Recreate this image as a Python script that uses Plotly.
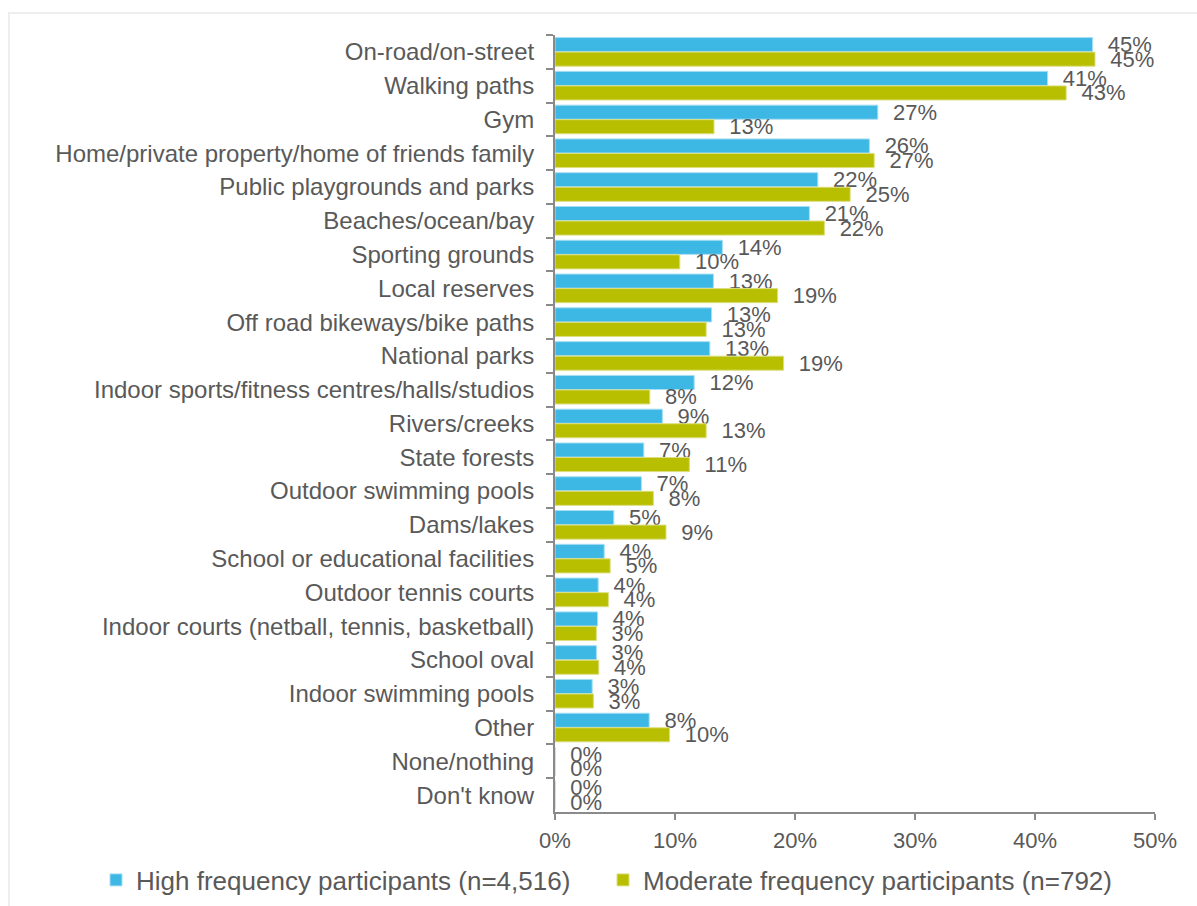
import plotly.graph_objects as go

# Places used for physical activity, by participation frequency (% of respondents)
categories = [
    "On-road/on-street",
    "Walking paths",
    "Gym",
    "Home/private property/home of friends family",
    "Public playgrounds and parks",
    "Beaches/ocean/bay",
    "Sporting grounds",
    "Local reserves",
    "Off road bikeways/bike paths",
    "National parks",
    "Indoor sports/fitness centres/halls/studios",
    "Rivers/creeks",
    "State forests",
    "Outdoor swimming pools",
    "Dams/lakes",
    "School or educational facilities",
    "Outdoor tennis courts",
    "Indoor courts (netball, tennis, basketball)",
    "School oval",
    "Indoor swimming pools",
    "Other",
    "None/nothing",
    "Don't know",
]

high_freq = [44.8, 41.05, 26.9, 26.2, 21.9, 21.2, 13.95, 13.2, 13.05, 12.9, 11.6, 8.95,
             7.4, 7.2, 4.9, 4.1, 3.6, 3.55, 3.45, 3.1, 7.85, 0.0, 0.0]
moderate_freq = [45.0, 42.6, 13.25, 26.6, 24.6, 22.45, 10.4, 18.55, 12.6, 19.05, 7.9, 12.6,
                 11.2, 8.2, 9.25, 4.6, 4.45, 3.45, 3.65, 3.2, 9.55, 0.0, 0.0]

series_names = [
    "High frequency participants (n=4,516)",
    "Moderate frequency participants (n=792)",
]

x_ticks = [0, 10, 20, 30, 40, 50]

BLUE = "#3db7e4"
GREEN = "#b8bf00"
TEXT = "#595959"
AXIS = "#8a8a8a"
FONT = "Liberation Sans, Arial, sans-serif"

fig = go.Figure()
for name, vals, col, edge, leg in [
    (series_names[0], high_freq, BLUE, "#a6def3", "legend"),
    (series_names[1], moderate_freq, GREEN, "#dcdf80", "legend2"),
]:
    fig.add_trace(go.Bar(
        y=categories,
        x=vals,
        name=name,
        orientation="h",
        legend=leg,
        marker=dict(color=col, line=dict(color=edge, width=1)),
        texttemplate="\u00a0\u00a0%{x:.0f}%",
        textposition="outside",
        constraintext="none",
        cliponaxis=False,
        textfont=dict(family=FONT, size=22, color=TEXT),
        hoverinfo="skip",
    ))

legend_style = dict(
    orientation="h",
    xanchor="left",
    y=-0.0875,
    yanchor="middle",
    font=dict(family=FONT, size=26, color=TEXT),
    bgcolor="rgba(0,0,0,0)",
)

fig.update_layout(
    width=1197,
    height=906,
    margin=dict(l=555, r=42, t=35, b=94, autoexpand=False),
    paper_bgcolor="white",
    plot_bgcolor="white",
    barmode="group",
    bargap=0.14,
    bargroupgap=0.03,
    font=dict(family=FONT, color=TEXT),
    showlegend=True,
    legend=dict(x=-0.765, **legend_style),
    legend2=dict(x=0.08, **legend_style),
    xaxis=dict(
        range=[0, 50],
        tickvals=x_ticks,
        ticktext=[f"{v}%" for v in x_ticks],
        showgrid=False,
        zeroline=False,
        showline=True,
        linecolor=AXIS,
        linewidth=2,
        ticks="outside",
        ticklen=6,
        tickwidth=2,
        tickcolor=AXIS,
        tickfont=dict(family=FONT, size=22, color=TEXT),
        ticklabelstandoff=2,
        fixedrange=True,
    ),
    yaxis=dict(
        type="category",
        autorange="reversed",
        showgrid=False,
        zeroline=False,
        showline=True,
        linecolor=AXIS,
        linewidth=2,
        ticks="outside",
        tickson="boundaries",
        ticklen=7,
        tickwidth=2,
        tickcolor=AXIS,
        tickfont=dict(family=FONT, size=24, color=TEXT),
        ticklabelstandoff=14,
        fixedrange=True,
    ),
    shapes=[dict(
        type="rect", xref="paper", yref="paper",
        x0=-0.91, x1=1.3, y0=-0.3, y1=1.0283,
        line=dict(color="#eeeeee", width=2),
        fillcolor="rgba(0,0,0,0)",
        layer="below",
    )],
)

fig.write_html("out.html")
